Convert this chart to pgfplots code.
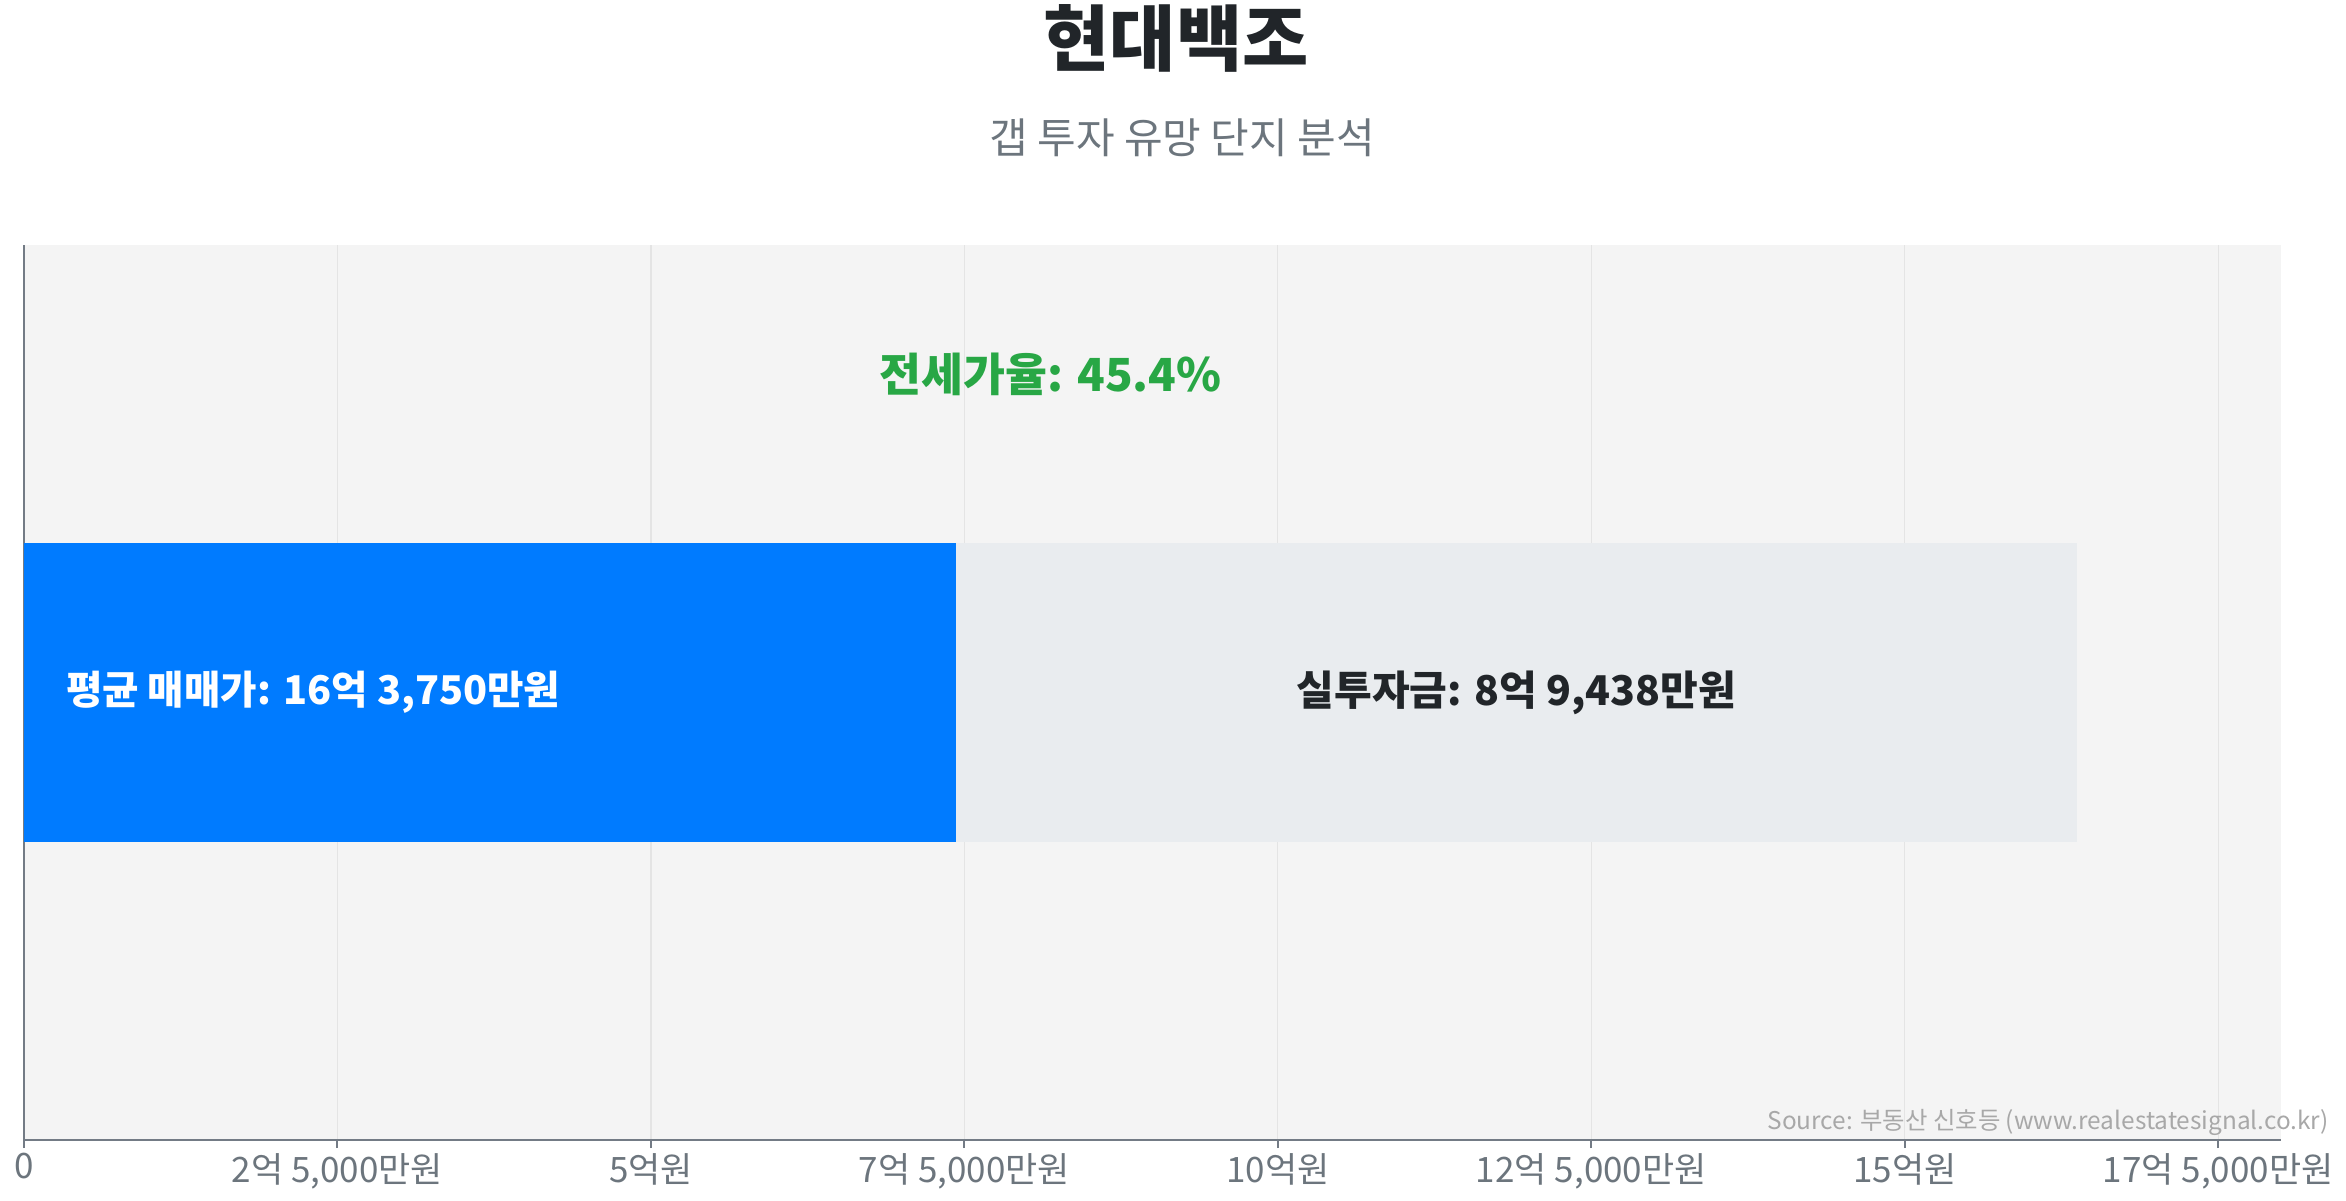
\documentclass[border=0pt]{standalone}
\usepackage{fontspec}
\setmainfont{Noto Sans CJK KR}
\usepackage{pgfplots}
\pgfplotsset{compat=1.18}
\definecolor{barblue}{HTML}{007BFF}
\definecolor{bargray}{HTML}{E9ECEF}
\definecolor{bgcol}{HTML}{F4F4F4}
\definecolor{gridcol}{HTML}{E4E4E4}
\definecolor{axiscol}{HTML}{737B85}
\definecolor{labelcol}{HTML}{6C757D}
\definecolor{titlecol}{HTML}{212529}
\definecolor{greencol}{HTML}{28A745}
\definecolor{srccol}{HTML}{A8A8A8}
\begin{document}
\begin{tikzpicture}
\useasboundingbox (-12pt,-30pt) rectangle (1161pt,570pt);
\begin{axis}[
  at={(0pt,0pt)}, anchor=south west,
  scale only axis, width=1128.5pt, height=447.5pt,
  xbar stacked, bar width=1,
  xmin=0, xmax=180000, ymin=-1.5, ymax=1.5,
  ytick=\empty,
  scaled x ticks=false,
  xtick={0,25000,50000,75000,100000,125000,150000,175000},
  xticklabels={0,{2억 5,000만원},5억원,{7억 5,000만원},10억원,{12억 5,000만원},15억원,{17억 5,000만원}},
  axis lines*=left,
  axis line style={draw=axiscol, line width=1pt},
  xmajorgrids, major grid style={draw=gridcol, line width=0.6pt},
  tick style={draw=axiscol, line width=1pt},
  major tick length=4pt, tick align=outside,
  xticklabel style={font=\fontsize{17.5}{17.5}\selectfont, text=labelcol, yshift=1pt},
  axis background/.style={fill=bgcol},
  clip=false,
]
\addplot[fill=barblue, draw=none] coordinates {(74312,0)};
\addplot[fill=bargray, draw=none] coordinates {(89438,0)};
\coordinate (L1) at (axis cs:0,0);
\coordinate (L2) at (axis cs:119031,0);
\coordinate (L3) at (axis cs:81875,1.065);
\end{axis}
\node[anchor=west, text=white, font=\fontsize{19.8}{19.8}\selectfont\bfseries, xshift=17.5pt] at (L1) {평균 매매가: 16억 3,750만원};
\node[text=titlecol, font=\fontsize{20.5}{20.5}\selectfont\bfseries] at (L2) {실투자금: 8억 9,438만원};
\node[text=greencol, font=\fontsize{22.8}{22.8}\selectfont\bfseries] at (L3) {전세가율: 45.4\%};
\node[text=titlecol, font=\fontsize{36}{36}\selectfont\bfseries] at (576pt,551pt) {현대백조};
\node[text=labelcol, font=\fontsize{21}{21}\selectfont] at (579pt,501pt) {갭 투자 유망 단지 분석};
\node[anchor=east, text=srccol, font=\fontsize{12.2}{12.2}\selectfont, inner sep=0pt] at (1152.5pt,9pt) {Source: 부동산 신호등 (www.realestatesignal.co.kr)};
\end{tikzpicture}
\end{document}
